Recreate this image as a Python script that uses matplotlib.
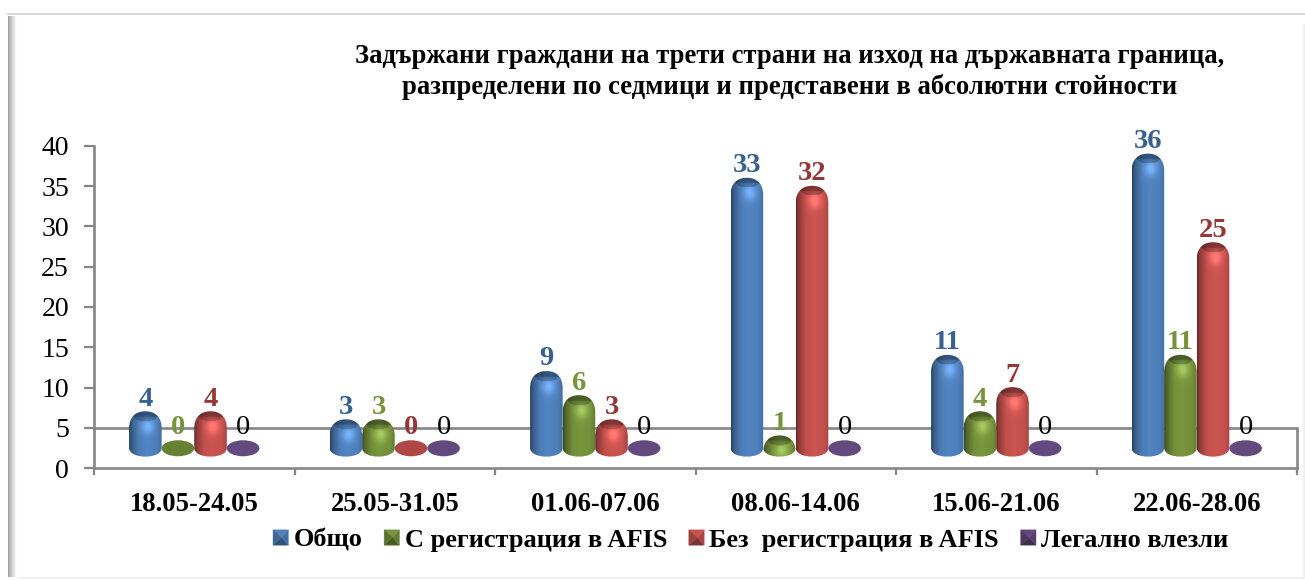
import numpy as np
import matplotlib
matplotlib.use('Agg')
import matplotlib.pyplot as plt
from matplotlib.colors import to_rgb
from matplotlib.legend_handler import HandlerBase
from matplotlib.patches import PathPatch, Polygon, Ellipse
from matplotlib.path import Path

plt.rcParams['font.family'] = ['Liberation Serif', 'DejaVu Serif']

title = ('Задържани граждани на трети страни на изход на държавната граница,\n'
         'разпределени по седмици и представени в абсолютни стойности')
weeks = ['18.05-24.05', '25.05-31.05', '01.06-07.06', '08.06-14.06', '15.06-21.06', '22.06-28.06']
obshto = [4, 3, 9, 33, 11, 36]
s_afis = [0, 3, 6, 1, 4, 11]
bez_afis = [4, 0, 3, 32, 7, 25]
legalno = [0, 0, 0, 0, 0, 0]
series_names = ['Общо', 'С регистрация в AFIS', 'Без  регистрация в AFIS', 'Легално влезли']
series_values = [obshto, s_afis, bez_afis, legalno]
bar_colors = ['#4f81bd', '#76933c', '#c8524f', '#64497f']
label_colors = ['#376092', '#77933c', '#953735', 'black']
floor_level = 5

W, H = 1305, 580
BAR_W = 0.1625
BASE = 2.5          # bars stand in the middle of the 3d floor
PX = 40 / 322       # one pixel in y units


def cylinder_path(x0, x1, v):
    # rounded top, elliptical foot
    top = BASE + v + 4.5 * PX
    sh = 17 * PX
    foot = 9 * PX
    dx = x1 - x0
    return Path(
        [(x0, BASE), (x0, BASE - foot * 1.3), (x1, BASE - foot * 1.3), (x1, BASE),
         (x1, top - sh), (x1, top - sh * 0.35), (x1 - dx * 0.2, top), (x0 + dx * 0.5, top),
         (x0 + dx * 0.2, top), (x0, top - sh * 0.35), (x0, top - sh), (x0, BASE)],
        [Path.MOVETO, Path.CURVE4, Path.CURVE4, Path.CURVE4,
         Path.LINETO, Path.CURVE4, Path.CURVE4, Path.CURVE4,
         Path.CURVE4, Path.CURVE4, Path.CURVE4, Path.CLOSEPOLY])


def cylinder_shade(color, v):
    top = BASE + v + 4.5 * PX
    bottom = BASE - 9 * PX
    rows = max(int((top - bottom) / PX), 2)
    u = np.linspace(0, 1, 48)
    y = np.linspace(top, bottom, rows)
    uu, yy = np.meshgrid(u, y)
    shade = np.interp(uu, [0, 0.07, 0.3, 0.55, 0.85, 1], [0.5, 0.7, 0.97, 1.02, 0.98, 0.85])
    # soft glow under the cap, dark dimple on top
    depth = (top - yy) / PX
    glow = np.exp(-(((uu - 0.57) / 0.2) ** 2) - ((depth - 15) / 8) ** 2)
    shade = shade + 0.22 * glow
    dimple = ((uu - 0.5) / 0.36) ** 2 + ((depth - 5) / 5) ** 2
    shade = shade * np.where(dimple < 1, 0.76, 1.0)
    cap = np.clip(depth / 6, 0.8, 1)
    shade = shade * cap
    rgb = np.array(to_rgb(color))[None, None, :] * shade[:, :, None]
    return np.clip(rgb + 0.25 * glow[:, :, None] * 0.35, 0, 1)


class PyramidHandler(HandlerBase):
    # bevelled square swatch
    def create_artists(self, legend, orig_handle, xdescent, ydescent, width, height, fontsize, trans):
        base = np.array(to_rgb(orig_handle.get_facecolor()))
        s = 11
        x0 = width - s
        y0 = (height - s) / 2 - ydescent
        c = (x0 + s * 0.55, y0 + s * 0.5)
        a, b, d, e = (x0, y0), (x0 + s, y0), (x0 + s, y0 + s), (x0, y0 + s)
        faces = [([a, b, c], 0.62), ([b, d, c], 0.85), ([d, e, c], 1.0), ([e, a, c], 0.78)]
        return [Polygon(pts, closed=True, facecolor=np.clip(base * k, 0, 1),
                        edgecolor=np.clip(base * k, 0, 1), lw=0.3, transform=trans)
                for pts, k in faces]


fig = plt.figure(figsize=(W / 100, H / 100), dpi=100, facecolor='white')

# frame of the pasted picture, in pixels
bg = fig.add_axes([0, 0, 1, 1], zorder=-1)
bg.set_xlim(0, W)
bg.set_ylim(H, 0)
bg.axis('off')
band = np.interp(np.linspace(0, 1, 16), [0, 0.2, 1], [0.62, 0.72, 1.0])[None, :]
bg.imshow(band, extent=(8, 17, 577, 16), cmap='gray', vmin=0, vmax=1, aspect='auto')
bg.plot([8, W], [13.5, 13.5], color='#d4d4d4', lw=1.3)
bg.plot([18, W], [577.5, 577.5], color='#f0f0f0', lw=1.2)
bg.imshow(np.linspace(1, 0.93, 4)[None, :], extent=(1301, W, 577, 24), cmap='gray',
          vmin=0, vmax=1, aspect='auto')
bg.set_xlim(0, W)
bg.set_ylim(H, 0)

ax = fig.add_axes([94 / W, (H - 468) / H, 1203 / W, 322 / H])
ax.patch.set_alpha(0)
ax.set_xlim(0, len(weeks))
ax.set_ylim(0, 40)

ax.plot([0, len(weeks), len(weeks)], [floor_level, floor_level, 0], color='#868686', lw=1.9,
        zorder=1, solid_joinstyle='miter', clip_on=False)

for i, (values, color, lab_col) in enumerate(zip(series_values, bar_colors, label_colors)):
    for j, v in enumerate(values):
        x0 = j + 0.5 - 2 * BAR_W + i * BAR_W
        x1 = x0 + BAR_W
        if v == 0:
            face = np.array(to_rgb(color)) * 0.87 if i != 3 else color
            ax.add_patch(Ellipse(((x0 + x1) / 2, BASE - 0.05), BAR_W, 16 * PX, facecolor=face,
                                 edgecolor='none', zorder=3))
            top = BASE + 8 * PX
        else:
            clip = PathPatch(cylinder_path(x0, x1, v), facecolor='none', edgecolor='none',
                             transform=ax.transData)
            ax.add_patch(clip)
            top = BASE + v + 4.5 * PX
            im = ax.imshow(cylinder_shade(color, v), extent=(x0, x1, BASE - 9 * PX, top),
                           aspect='auto', zorder=3, interpolation='bilinear')
            im.set_clip_path(clip)
        is_black = lab_col == 'black'
        ax.text((x0 + x1) / 2, top + 5.5 * PX, str(v), ha='center', va='baseline',
                fontsize=20.5, color=lab_col, fontweight='normal' if is_black else 'bold', zorder=4)

ax.set_xlim(0, len(weeks))
ax.set_ylim(0, 40)

for side in ('top', 'right'):
    ax.spines[side].set_visible(False)
for side in ('left', 'bottom'):
    ax.spines[side].set_color('#868686')
    ax.spines[side].set_linewidth(1.9)

ax.set_yticks(range(0, 41, 5))
ax.tick_params(axis='y', labelsize=20, length=7, width=1.6, color='#868686', pad=11)
ax.set_xticks(range(len(weeks) + 1))
ax.set_xticklabels([])
ax.tick_params(axis='x', which='major', length=5, width=1.6, color='#868686')
ax.set_xticks(np.arange(len(weeks)) + 0.5, minor=True)
ax.set_xticklabels(weeks, minor=True, fontsize=19.2, fontweight='bold')
ax.tick_params(axis='x', which='minor', length=0, pad=17)

fig.text(790 / W, 1 - 72 / H, title, ha='center', va='center', fontsize=19.2, fontweight='bold',
         linespacing=1.27)

handles = [plt.Rectangle((0, 0), 1, 1, facecolor=c) for c in bar_colors]
fig.legend(handles, series_names, handler_map={plt.Rectangle: PyramidHandler()}, ncols=4,
           loc='center', bbox_to_anchor=(750.5 / W, 1 - 540 / H), frameon=False,
           prop={'size': 19, 'weight': 'bold'}, handlelength=0.6, handletextpad=0.2,
           columnspacing=0.8, borderpad=0, borderaxespad=0)

fig.savefig('out.png', dpi=100)
